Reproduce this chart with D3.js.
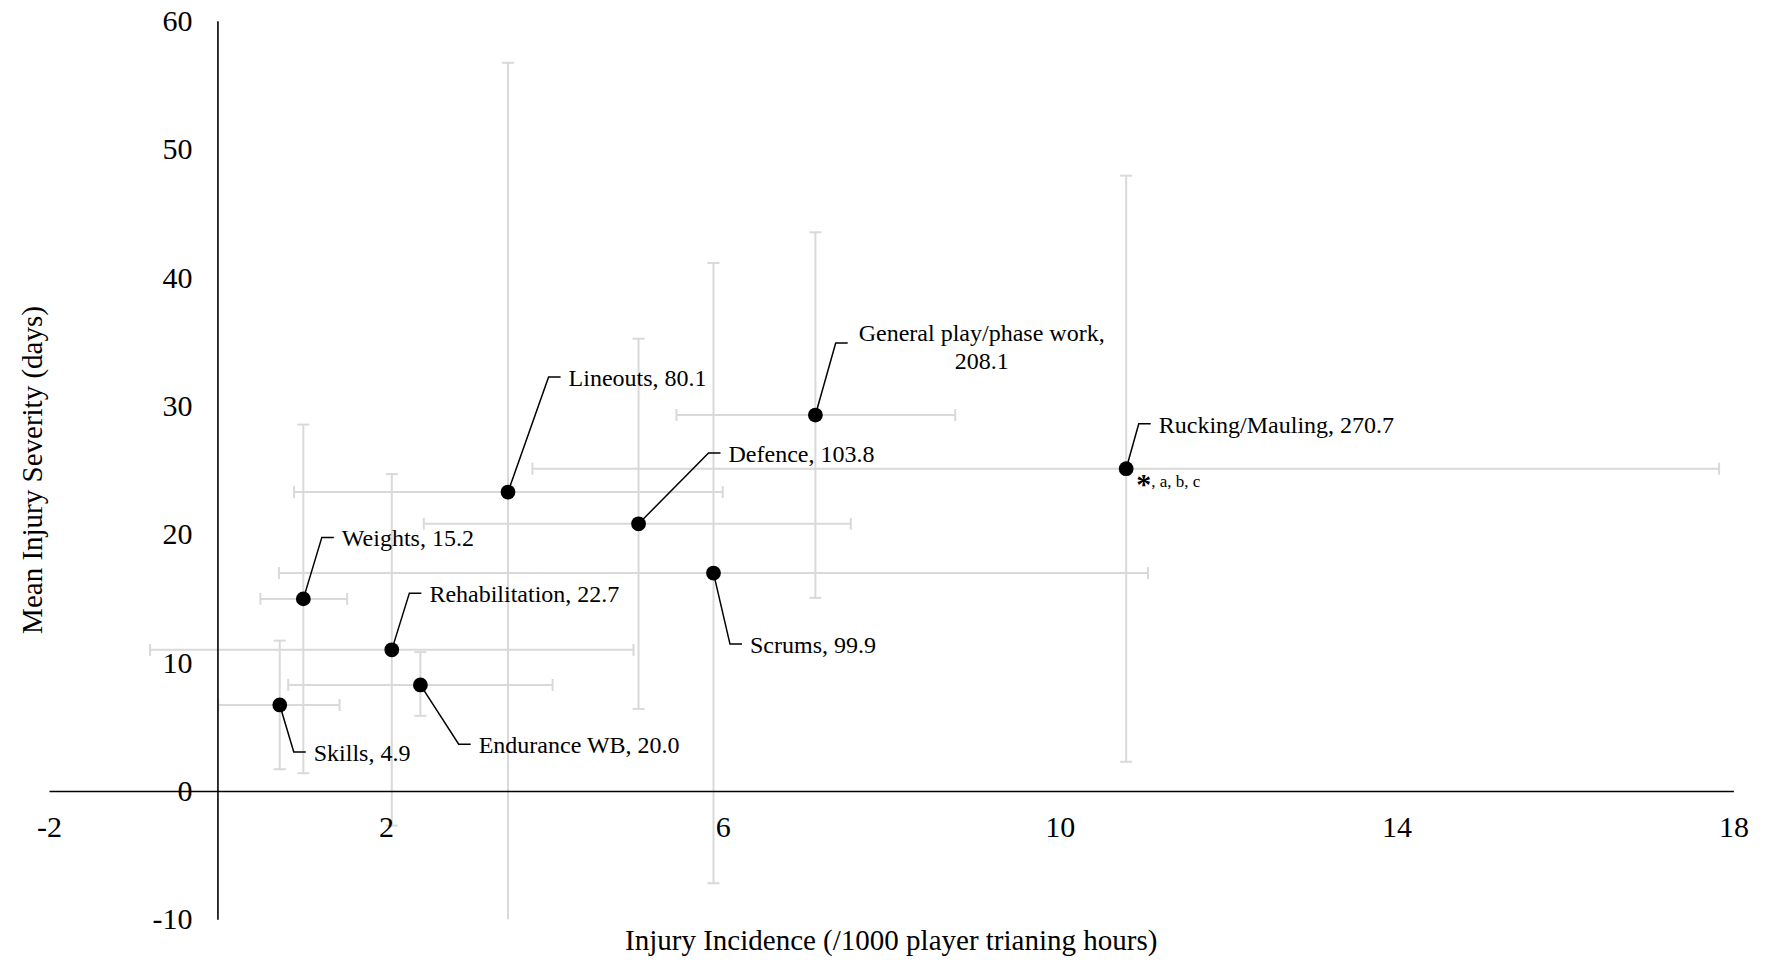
<!DOCTYPE html>
<html>
<head>
<meta charset="utf-8">
<script src="https://cdn.jsdelivr.net/npm/d3@7"></script>
<style>
  html, body { margin: 0; padding: 0; background: #ffffff; }
  svg { display: block; }
  text { font-family: "Liberation Serif", "Times New Roman", serif; fill: #000; }
</style>
</head>
<body>
<svg id="chart" width="1771" height="960"></svg>
<script>
// ---- data ----
const categories = ["Skills", "Weights", "Rehabilitation", "Endurance WB", "Lineouts",
                    "Defence", "Scrums", "General play/phase work", "Rucking/Mauling"];
const injuryCounts = [4.9, 15.2, 22.7, 20.0, 80.1, 103.8, 99.9, 208.1, 270.7];
const incidence     = [0.74, 1.02, 2.07, 2.41, 3.45, 5.00, 5.89, 7.10, 10.79];
const incidenceLow  = [0.01, 0.51, -0.80, 0.84, 0.91, 2.45, 0.73, 5.45, 3.74];
const incidenceHigh = [1.45, 1.54, 4.94, 3.98, 6.00, 7.52, 11.05, 8.76, 17.83];
const severity      = [6.70, 14.96, 10.99, 8.26, 23.28, 20.81, 16.97, 29.28, 25.10];
const severityLow   = [1.69, 1.38, -2.70, 5.85, -10.16, 6.39, -7.19, 15.04, 2.27];
const severityHigh  = [11.71, 28.54, 24.68, 10.81, 56.72, 35.23, 41.13, 43.52, 47.93];
const xTicks = [-2, 2, 6, 10, 14, 18];
const yTicks = [-10, 0, 10, 20, 30, 40, 50, 60];
const xTitle = "Injury Incidence (/1000 player trianing hours)";
const yTitle = "Mean Injury Severity (days)";
const footnote = ", a, b, c";

// ---- layout (label leader-line bends relative to each dot, in px) ----
const leaderBend = [[14, 47], [18.5, -61.5], [17.6, -56.7], [38.3, 59.3], [40.6, -115],
                    [70, -70.7], [16.5, 71], [20.3, -72], [12.6, -45]];

const svg = d3.select("#chart");
const x = d3.scaleLinear().domain([-2, 18]).range([49, 1733.4]);
const y = d3.scaleLinear().domain([-10, 60]).range([919.3, 20.7]);
const clampY = v => Math.max(-10, Math.min(60, v));

const data = categories.map((c, i) => ({
  name: c, n: injuryCounts[i], x: incidence[i], xl: incidenceLow[i], xh: incidenceHigh[i],
  y: severity[i], yl: severityLow[i], yh: severityHigh[i], bend: leaderBend[i]
}));

// ---- error bars ----
const eb = svg.append("g").attr("stroke", "#d9d9d9").attr("stroke-width", 2).attr("fill", "none");
const cap = 6;
data.forEach(d => {
  eb.append("line").attr("x1", x(d.xl)).attr("x2", x(d.xh)).attr("y1", y(d.y)).attr("y2", y(d.y));
  if (d.xl >= -2) eb.append("line").attr("x1", x(d.xl)).attr("x2", x(d.xl)).attr("y1", y(d.y) - cap).attr("y2", y(d.y) + cap);
  eb.append("line").attr("x1", x(d.xh)).attr("x2", x(d.xh)).attr("y1", y(d.y) - cap).attr("y2", y(d.y) + cap);
  eb.append("line").attr("x1", x(d.x)).attr("x2", x(d.x)).attr("y1", y(clampY(d.yl))).attr("y2", y(clampY(d.yh)));
  if (d.yh <= 60) eb.append("line").attr("x1", x(d.x) - cap).attr("x2", x(d.x) + cap).attr("y1", y(d.yh)).attr("y2", y(d.yh));
  if (d.yl >= -10) eb.append("line").attr("x1", x(d.x) - cap).attr("x2", x(d.x) + cap).attr("y1", y(d.yl)).attr("y2", y(d.yl));
});

// ---- axes ----
const xAxis = d3.axisBottom(x).tickValues(xTicks).tickSize(0).tickSizeOuter(0).tickPadding(25)
  .tickFormat(d => String(d));
const gx = svg.append("g").attr("transform", `translate(0,${y(0)})`).call(xAxis);
gx.attr("font-family", null).attr("font-size", null);
gx.select(".domain").attr("stroke", "#000").attr("stroke-width", 1.6);
gx.selectAll(".tick text").attr("font-size", 30);

const yAxis = d3.axisLeft(y).tickValues(yTicks).tickSize(0).tickSizeOuter(0).tickPadding(25)
  .tickFormat(d => String(d));
const gy = svg.append("g").attr("transform", `translate(${x(0)},0)`).call(yAxis);
gy.attr("font-family", null).attr("font-size", null);
gy.select(".domain").attr("stroke", "#000").attr("stroke-width", 1.6);
gy.selectAll(".tick text").attr("font-size", 30);

// ---- leader lines & labels ----
const lab = svg.append("g");
data.forEach((d, i) => {
  const px = x(d.x), py = y(d.y);
  const bx = px + d.bend[0], by = py + d.bend[1];
  lab.append("polyline")
    .attr("points", `${px},${py} ${bx},${by} ${bx + 12},${by}`)
    .attr("fill", "none").attr("stroke", "#000").attr("stroke-width", 1.5);
  const label = `${d.name}, ${d.n.toFixed(1)}`;
  if (d.name.startsWith("General")) {
    const t = lab.append("text").attr("font-size", 24).attr("text-anchor", "middle");
    t.append("tspan").attr("x", bx + 146).attr("y", by - 2).text(`${d.name},`);
    t.append("tspan").attr("x", bx + 146).attr("y", by + 26.4).text(d.n.toFixed(1));
  } else {
    lab.append("text").attr("x", bx + 20).attr("y", by + 9).attr("font-size", 24).text(label);
  }
});

// dots
svg.append("g").selectAll("circle").data(data).join("circle")
  .attr("cx", d => x(d.x)).attr("cy", d => y(d.y)).attr("r", 7.4).attr("fill", "#000");

// footnote for Rucking/Mauling
const rk = data[8];
const fn = svg.append("text").attr("x", x(rk.x) + 10).attr("y", y(rk.y) + 18).attr("font-size", 17);
fn.append("tspan").attr("font-size", 30).attr("font-weight", "bold").attr("dy", 7).text("*");
fn.append("tspan").attr("dy", -7).text(footnote);

// ---- axis titles ----
svg.append("text").attr("x", (x(-2) + x(18)) / 2).attr("y", 950).attr("text-anchor", "middle")
  .attr("font-size", 29).text(xTitle);
svg.append("text").attr("transform", `translate(42,${(y(60) + y(-10)) / 2}) rotate(-90)`)
  .attr("text-anchor", "middle").attr("font-size", 29).text(yTitle);
</script>
</body>
</html>
